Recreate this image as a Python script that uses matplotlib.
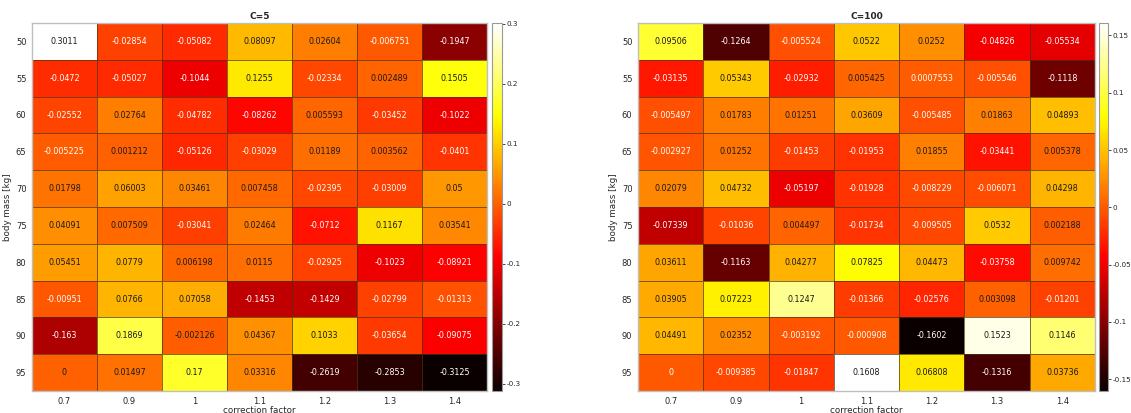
"""
Heatmaps of relative error vs correction factor and body mass for two C values.
"""
import matplotlib
matplotlib.use("Agg")
import matplotlib.pyplot as plt
import numpy as np
from matplotlib.colors import Normalize
from matplotlib.ticker import FuncFormatter


CORRECTION_FACTORS = ["0.7", "0.9", "1", "1.1", "1.2", "1.3", "1.4"]
BODY_MASSES = ["50", "55", "60", "65", "70", "75", "80", "85", "90", "95"]

VALUES_C5 = [
    [0.3011, -0.02854, -0.05082, 0.08097, 0.02604, -0.006751, -0.1947],
    [-0.0472, -0.05027, -0.1044, 0.1255, -0.02334, 0.002489, 0.1505],
    [-0.02552, 0.02764, -0.04782, -0.08262, 0.005593, -0.03452, -0.1022],
    [-0.005225, 0.001212, -0.05126, -0.03029, 0.01189, 0.003562, -0.0401],
    [0.01798, 0.06003, 0.03461, 0.007458, -0.02395, -0.03009, 0.05],
    [0.04091, 0.007509, -0.03041, 0.02464, -0.0712, 0.1167, 0.03541],
    [0.05451, 0.0779, 0.006198, 0.0115, -0.02925, -0.1023, -0.08921],
    [-0.00951, 0.0766, 0.07058, -0.1453, -0.1429, -0.02799, -0.01313],
    [-0.163, 0.1869, -0.002126, 0.04367, 0.1033, -0.03654, -0.09075],
    [0, 0.01497, 0.17, 0.03316, -0.2619, -0.2853, -0.3125],
]
LABELS_C5 = [
    ["0.3011", "-0.02854", "-0.05082", "0.08097", "0.02604", "-0.006751", "-0.1947"],
    ["-0.0472", "-0.05027", "-0.1044", "0.1255", "-0.02334", "0.002489", "0.1505"],
    ["-0.02552", "0.02764", "-0.04782", "-0.08262", "0.005593", "-0.03452", "-0.1022"],
    ["-0.005225", "0.001212", "-0.05126", "-0.03029", "0.01189", "0.003562", "-0.0401"],
    ["0.01798", "0.06003", "0.03461", "0.007458", "-0.02395", "-0.03009", "0.05"],
    ["0.04091", "0.007509", "-0.03041", "0.02464", "-0.0712", "0.1167", "0.03541"],
    ["0.05451", "0.0779", "0.006198", "0.0115", "-0.02925", "-0.1023", "-0.08921"],
    ["-0.00951", "0.0766", "0.07058", "-0.1453", "-0.1429", "-0.02799", "-0.01313"],
    ["-0.163", "0.1869", "-0.002126", "0.04367", "0.1033", "-0.03654", "-0.09075"],
    ["0", "0.01497", "0.17", "0.03316", "-0.2619", "-0.2853", "-0.3125"],
]

VALUES_C100 = [
    [0.09506, -0.1264, -0.005524, 0.0522, 0.0252, -0.04826, -0.05534],
    [-0.03135, 0.05343, -0.02932, 0.005425, 0.0007553, -0.005546, -0.1118],
    [-0.005497, 0.01783, 0.01251, 0.03609, -0.005485, 0.01863, 0.04893],
    [-0.002927, 0.01252, -0.01453, -0.01953, 0.01855, -0.03441, 0.005378],
    [0.02079, 0.04732, -0.05197, -0.01928, -0.008229, -0.006071, 0.04298],
    [-0.07339, -0.01036, 0.004497, -0.01734, -0.009505, 0.0532, 0.002188],
    [0.03611, -0.1163, 0.04277, 0.07825, 0.04473, -0.03758, 0.009742],
    [0.03905, 0.07223, 0.1247, -0.01366, -0.02576, 0.003098, -0.01201],
    [0.04491, 0.02352, -0.003192, -0.000908, -0.1602, 0.1523, 0.1146],
    [0, -0.009385, -0.01847, 0.1608, 0.06808, -0.1316, 0.03736],
]
LABELS_C100 = [
    ["0.09506", "-0.1264", "-0.005524", "0.0522", "0.0252", "-0.04826", "-0.05534"],
    ["-0.03135", "0.05343", "-0.02932", "0.005425", "0.0007553", "-0.005546", "-0.1118"],
    ["-0.005497", "0.01783", "0.01251", "0.03609", "-0.005485", "0.01863", "0.04893"],
    ["-0.002927", "0.01252", "-0.01453", "-0.01953", "0.01855", "-0.03441", "0.005378"],
    ["0.02079", "0.04732", "-0.05197", "-0.01928", "-0.008229", "-0.006071", "0.04298"],
    ["-0.07339", "-0.01036", "0.004497", "-0.01734", "-0.009505", "0.0532", "0.002188"],
    ["0.03611", "-0.1163", "0.04277", "0.07825", "0.04473", "-0.03758", "0.009742"],
    ["0.03905", "0.07223", "0.1247", "-0.01366", "-0.02576", "0.003098", "-0.01201"],
    ["0.04491", "0.02352", "-0.003192", "-0.000908", "-0.1602", "0.1523", "0.1146"],
    ["0", "-0.009385", "-0.01847", "0.1608", "0.06808", "-0.1316", "0.03736"],
]

CB_TICKS_C5 = [-0.3, -0.2, -0.1, 0, 0.1, 0.2, 0.3]
CB_TICKS_C100 = [-0.15, -0.1, -0.05, 0, 0.05, 0.1, 0.15]

W, H = 1131, 413
TEXT_GRAY = (0.15, 0.15, 0.15)
plt.rcParams["axes.unicode_minus"] = False


def px_rect(x0, y0, x1, y1):
    return [x0 / W, 1 - y1 / H, (x1 - x0) / W, (y1 - y0) / H]


def draw_heatmap(fig, ax, cax, values, labels, title, cb_ticks):
    data = np.array(values)
    cmap = plt.get_cmap("hot")
    norm = Normalize(vmin=data.min(), vmax=data.max())
    mesh = ax.pcolormesh(data, cmap=cmap, norm=norm,
                         edgecolors=(0.3, 0.2, 0.1, 0.7), linewidth=0.7)
    ax.set_xlim(0, data.shape[1])
    ax.set_ylim(data.shape[0], 0)

    for i in range(data.shape[0]):
        for j in range(data.shape[1]):
            r, g, b, _ = cmap(norm(data[i, j]))
            lum = 0.299 * r + 0.587 * g + 0.114 * b
            color = "white" if lum < 0.515 else (0.1, 0.1, 0.1)
            ax.text(j + 0.5, i + 0.5, labels[i][j], ha="center", va="center",
                    fontsize=5.8, color=color)

    ax.set_xticks(np.arange(data.shape[1]) + 0.5)
    ax.set_xticklabels(CORRECTION_FACTORS)
    ax.set_yticks(np.arange(data.shape[0]) + 0.5)
    ax.set_yticklabels(BODY_MASSES)
    ax.tick_params(length=0, labelsize=6, labelcolor=TEXT_GRAY, pad=4)
    for spine in ax.spines.values():
        spine.set_color((0.75, 0.75, 0.75))
        spine.set_linewidth(1.0)
    ax.set_xlabel("correction factor", fontsize=6.3, color=TEXT_GRAY, labelpad=0)
    ax.set_ylabel("body mass [kg]", fontsize=6.3, color=TEXT_GRAY, labelpad=3)
    ax.set_title(title, fontsize=6.5, fontweight="bold", color=TEXT_GRAY, pad=3)

    cb = fig.colorbar(mesh, cax=cax)
    cb.set_ticks(cb_ticks)
    cb.ax.yaxis.set_major_formatter(FuncFormatter(lambda v, _: f"{v:g}" if abs(v) > 1e-9 else "0"))
    cb.ax.tick_params(labelsize=5.2, labelcolor=TEXT_GRAY, length=2, width=0.6,
                      color=TEXT_GRAY, pad=1)
    cb.outline.set_edgecolor((0.6, 0.6, 0.6))
    cb.outline.set_linewidth(0.8)


def main() -> None:
    fig = plt.figure(figsize=(W / 100, H / 100), dpi=100)

    ax1 = fig.add_axes(px_rect(32, 23, 487, 391))
    cax1 = fig.add_axes(px_rect(492, 23, 502, 391))
    ax2 = fig.add_axes(px_rect(638, 23, 1095, 391))
    cax2 = fig.add_axes(px_rect(1099, 23, 1108, 391))

    draw_heatmap(fig, ax1, cax1, VALUES_C5, LABELS_C5, "C=5", CB_TICKS_C5)
    draw_heatmap(fig, ax2, cax2, VALUES_C100, LABELS_C100, "C=100", CB_TICKS_C100)

    fig.savefig("out.png", dpi=100)
    plt.close(fig)


if __name__ == "__main__":
    main()
